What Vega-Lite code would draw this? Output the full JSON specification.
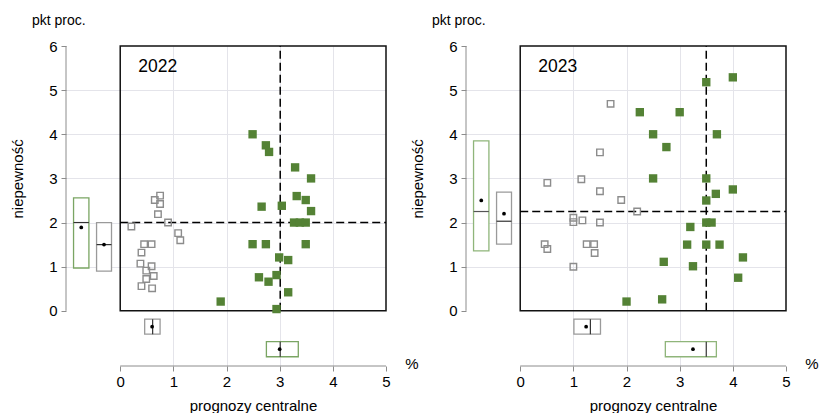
{
  "$schema": "https://vega.github.io/schema/vega-lite/v6.json",
  "background": "white",
  "padding": {"left": 10, "top": 14, "right": 0, "bottom": 0},
  "bounds": "flush",
  "spacing": 80,
  "datasets": {
    "panels": [
      {"year": "2022", "unit": "%"},
      {"year": "2023", "unit": "%"}
    ],
    "pts": [
      {"year": "2022", "grp": "A", "fc": 0.75, "unc": 2.61},
      {"year": "2022", "grp": "A", "fc": 0.65, "unc": 2.51},
      {"year": "2022", "grp": "A", "fc": 0.75, "unc": 2.42},
      {"year": "2022", "grp": "A", "fc": 0.71, "unc": 2.19},
      {"year": "2022", "grp": "A", "fc": 0.21, "unc": 1.91},
      {"year": "2022", "grp": "A", "fc": 0.90, "unc": 2.0},
      {"year": "2022", "grp": "A", "fc": 1.09, "unc": 1.76},
      {"year": "2022", "grp": "A", "fc": 1.13, "unc": 1.60},
      {"year": "2022", "grp": "A", "fc": 0.45, "unc": 1.51},
      {"year": "2022", "grp": "A", "fc": 0.59, "unc": 1.51},
      {"year": "2022", "grp": "A", "fc": 0.40, "unc": 1.32},
      {"year": "2022", "grp": "A", "fc": 0.38, "unc": 1.07},
      {"year": "2022", "grp": "A", "fc": 0.59, "unc": 1.01},
      {"year": "2022", "grp": "A", "fc": 0.49, "unc": 0.91},
      {"year": "2022", "grp": "A", "fc": 0.63, "unc": 0.79},
      {"year": "2022", "grp": "A", "fc": 0.49, "unc": 0.72},
      {"year": "2022", "grp": "A", "fc": 0.40, "unc": 0.56},
      {"year": "2022", "grp": "A", "fc": 0.60, "unc": 0.51},
      {"year": "2022", "grp": "B", "fc": 2.49, "unc": 4.0},
      {"year": "2022", "grp": "B", "fc": 2.74, "unc": 3.75},
      {"year": "2022", "grp": "B", "fc": 2.80, "unc": 3.60},
      {"year": "2022", "grp": "B", "fc": 3.29, "unc": 3.25},
      {"year": "2022", "grp": "B", "fc": 3.59, "unc": 3.0},
      {"year": "2022", "grp": "B", "fc": 3.32, "unc": 2.60},
      {"year": "2022", "grp": "B", "fc": 3.49, "unc": 2.51},
      {"year": "2022", "grp": "B", "fc": 2.66, "unc": 2.36},
      {"year": "2022", "grp": "B", "fc": 3.04, "unc": 2.38},
      {"year": "2022", "grp": "B", "fc": 3.59, "unc": 2.26},
      {"year": "2022", "grp": "B", "fc": 3.27, "unc": 2.0},
      {"year": "2022", "grp": "B", "fc": 3.38, "unc": 2.0},
      {"year": "2022", "grp": "B", "fc": 3.49, "unc": 2.0},
      {"year": "2022", "grp": "B", "fc": 2.49, "unc": 1.51},
      {"year": "2022", "grp": "B", "fc": 2.74, "unc": 1.51},
      {"year": "2022", "grp": "B", "fc": 3.49, "unc": 1.51},
      {"year": "2022", "grp": "B", "fc": 2.99, "unc": 1.21},
      {"year": "2022", "grp": "B", "fc": 3.16, "unc": 1.15},
      {"year": "2022", "grp": "B", "fc": 2.61, "unc": 0.76},
      {"year": "2022", "grp": "B", "fc": 2.79, "unc": 0.66},
      {"year": "2022", "grp": "B", "fc": 2.94, "unc": 0.81},
      {"year": "2022", "grp": "B", "fc": 3.16, "unc": 0.42},
      {"year": "2022", "grp": "B", "fc": 1.89, "unc": 0.21},
      {"year": "2022", "grp": "B", "fc": 2.94, "unc": 0.04},
      {"year": "2023", "grp": "A", "fc": 1.70, "unc": 4.69},
      {"year": "2023", "grp": "A", "fc": 1.50, "unc": 3.59},
      {"year": "2023", "grp": "A", "fc": 0.51, "unc": 2.90},
      {"year": "2023", "grp": "A", "fc": 1.15, "unc": 2.98},
      {"year": "2023", "grp": "A", "fc": 1.50, "unc": 2.71},
      {"year": "2023", "grp": "A", "fc": 1.90, "unc": 2.51},
      {"year": "2023", "grp": "A", "fc": 2.20, "unc": 2.25},
      {"year": "2023", "grp": "A", "fc": 1.00, "unc": 2.11},
      {"year": "2023", "grp": "A", "fc": 1.00, "unc": 2.01},
      {"year": "2023", "grp": "A", "fc": 1.17, "unc": 2.05},
      {"year": "2023", "grp": "A", "fc": 1.50, "unc": 2.0},
      {"year": "2023", "grp": "A", "fc": 0.46, "unc": 1.51},
      {"year": "2023", "grp": "A", "fc": 0.51, "unc": 1.40},
      {"year": "2023", "grp": "A", "fc": 1.25, "unc": 1.51},
      {"year": "2023", "grp": "A", "fc": 1.39, "unc": 1.51},
      {"year": "2023", "grp": "A", "fc": 1.40, "unc": 1.31},
      {"year": "2023", "grp": "A", "fc": 1.00, "unc": 1.0},
      {"year": "2023", "grp": "B", "fc": 4.00, "unc": 5.29},
      {"year": "2023", "grp": "B", "fc": 3.50, "unc": 5.18},
      {"year": "2023", "grp": "B", "fc": 2.25, "unc": 4.50},
      {"year": "2023", "grp": "B", "fc": 3.00, "unc": 4.50},
      {"year": "2023", "grp": "B", "fc": 2.50, "unc": 4.0},
      {"year": "2023", "grp": "B", "fc": 3.70, "unc": 4.0},
      {"year": "2023", "grp": "B", "fc": 2.75, "unc": 3.71},
      {"year": "2023", "grp": "B", "fc": 2.50, "unc": 3.0},
      {"year": "2023", "grp": "B", "fc": 3.50, "unc": 3.0},
      {"year": "2023", "grp": "B", "fc": 4.00, "unc": 2.75},
      {"year": "2023", "grp": "B", "fc": 3.68, "unc": 2.65},
      {"year": "2023", "grp": "B", "fc": 3.50, "unc": 2.50},
      {"year": "2023", "grp": "B", "fc": 3.20, "unc": 1.90},
      {"year": "2023", "grp": "B", "fc": 3.50, "unc": 2.0},
      {"year": "2023", "grp": "B", "fc": 3.60, "unc": 2.0},
      {"year": "2023", "grp": "B", "fc": 3.14, "unc": 1.50},
      {"year": "2023", "grp": "B", "fc": 3.50, "unc": 1.50},
      {"year": "2023", "grp": "B", "fc": 3.75, "unc": 1.50},
      {"year": "2023", "grp": "B", "fc": 4.19, "unc": 1.21},
      {"year": "2023", "grp": "B", "fc": 2.70, "unc": 1.11},
      {"year": "2023", "grp": "B", "fc": 3.25, "unc": 1.01},
      {"year": "2023", "grp": "B", "fc": 4.10, "unc": 0.75},
      {"year": "2023", "grp": "B", "fc": 2.00, "unc": 0.21},
      {"year": "2023", "grp": "B", "fc": 2.67, "unc": 0.26}
    ],
    "stats": [
      {"year": "2022", "grp": "B", "var": "unc", "q1": 0.97, "med": 2.0, "q3": 2.56, "mean": 1.89},
      {"year": "2022", "grp": "A", "var": "unc", "q1": 0.9, "med": 1.5, "q3": 2.0, "mean": 1.5},
      {"year": "2022", "grp": "A", "var": "fc", "q1": 0.46, "med": 0.61, "q3": 0.75, "mean": 0.6},
      {"year": "2022", "grp": "B", "var": "fc", "q1": 2.75, "med": 3.01, "q3": 3.35, "mean": 3.0},
      {"year": "2023", "grp": "B", "var": "unc", "q1": 1.36, "med": 2.25, "q3": 3.85, "mean": 2.5},
      {"year": "2023", "grp": "A", "var": "unc", "q1": 1.51, "med": 2.03, "q3": 2.69, "mean": 2.2},
      {"year": "2023", "grp": "A", "var": "fc", "q1": 1.01, "med": 1.32, "q3": 1.51, "mean": 1.24},
      {"year": "2023", "grp": "B", "var": "fc", "q1": 2.73, "med": 3.5, "q3": 3.69, "mean": 3.25}
    ]
  },
  "hconcat": [
    {
      "width": 320,
      "height": 320,
      "title": {"text": "pkt proc.", "anchor": "start", "frame": "group", "dx": -34, "fontSize": 14, "fontWeight": "normal", "font": "Liberation Sans", "baseline": "alphabetic", "offset": 0},
      "layer": [
        {
          "data": {"name": "panels"},
          "transform": [{"filter": "datum.year == '2022'"}],
          "mark": {"type": "rect", "fill": "white", "fillOpacity": 0, "stroke": "#111111", "strokeWidth": 1.5},
          "encoding": {
            "x": {"datum": 0, "type": "quantitative", "scale": {"domain": [-1.02, 5], "nice": false, "zero": false},
              "axis": {"title": "prognozy centralne", "values": [0, 1, 2, 3, 4, 5], "grid": true,
                "gridOpacity": {"condition": {"test": "datum.value <= 0 || datum.value >= 5", "value": 0}, "value": 1},
                "titleX": 187, "titleY": 39, "titleBaseline": "middle", "titleAlign": "center"}},
            "x2": {"datum": 5},
            "y": {"datum": 0, "type": "quantitative", "scale": {"domain": [-1.25, 6], "nice": false, "zero": false},
              "axis": {"title": "niepewność", "values": [0, 1, 2, 3, 4, 5, 6], "grid": true,
                "gridOpacity": {"condition": {"test": "datum.value <= 0 || datum.value >= 6", "value": 0}, "value": 1},
                "titleX": -49, "titleY": 132.4, "titleAngle": 270, "titleBaseline": "middle", "titleAlign": "center"}},
            "y2": {"datum": 6}
          }
        },
        {
          "data": {"name": "panels"},
          "transform": [{"filter": "datum.year == '2022'"}],
          "mark": {"type": "rule", "color": "#8c8c8c", "strokeWidth": 1},
          "encoding": {"x": {"datum": -1.02, "type": "quantitative"}, "y": {"datum": 0, "type": "quantitative"}, "y2": {"datum": 6}}
        },
        {
          "data": {"name": "panels"},
          "transform": [{"filter": "datum.year == '2022'"}],
          "mark": {"type": "rule", "color": "#8c8c8c", "strokeWidth": 1},
          "encoding": {"y": {"datum": -1.25, "type": "quantitative"}, "x": {"datum": 0, "type": "quantitative"}, "x2": {"datum": 5}}
        },
        {
          "data": {"name": "panels"},
          "transform": [{"filter": "datum.year == '2022'"}],
          "mark": {"type": "text", "align": "left", "baseline": "middle", "fontSize": 17.5, "font": "Liberation Sans", "color": "#000"},
          "encoding": {"x": {"datum": 0.34, "type": "quantitative"}, "y": {"datum": 5.53, "type": "quantitative"}, "text": {"field": "year"}}
        },
        {
          "data": {"name": "panels"},
          "transform": [{"filter": "datum.year == '2022'"}],
          "mark": {"type": "text", "align": "center", "baseline": "middle", "fontSize": 15, "font": "Liberation Sans", "color": "#000", "dx": 26, "dy": -2},
          "encoding": {"x": {"datum": 5, "type": "quantitative"}, "y": {"datum": -1.25, "type": "quantitative"}, "text": {"field": "unit"}}
        },
        {
          "data": {"name": "stats"},
          "transform": [{"filter": "datum.year == '2022' && datum.grp == 'B' && datum.var == 'fc'"}],
          "mark": {"type": "rule", "color": "#000", "strokeWidth": 1.5, "strokeDash": [8, 4]},
          "encoding": {"x": {"field": "med", "type": "quantitative", "title": "prognozy centralne"}, "y": {"datum": 0, "type": "quantitative"}, "y2": {"datum": 6}}
        },
        {
          "data": {"name": "stats"},
          "transform": [{"filter": "datum.year == '2022' && datum.grp == 'B' && datum.var == 'unc'"}],
          "mark": {"type": "rule", "color": "#000", "strokeWidth": 1.5, "strokeDash": [8, 4]},
          "encoding": {"y": {"field": "med", "type": "quantitative", "title": "niepewność"}, "x": {"datum": 0, "type": "quantitative"}, "x2": {"datum": 5}}
        },
        {
          "data": {"name": "pts"},
          "transform": [{"filter": "datum.year == '2022' && datum.grp == 'A'"}],
          "mark": {"type": "point", "shape": "square", "filled": false, "size": 42, "strokeWidth": 1.4, "color": "#8c8c8c", "opacity": 1},
          "encoding": {"x": {"field": "fc", "type": "quantitative", "title": "prognozy centralne"}, "y": {"field": "unc", "type": "quantitative", "title": "niepewność"}}
        },
        {
          "data": {"name": "pts"},
          "transform": [{"filter": "datum.year == '2022' && datum.grp == 'B'"}],
          "mark": {"type": "point", "shape": "square", "filled": true, "size": 70, "color": "#548235", "opacity": 1},
          "encoding": {"x": {"field": "fc", "type": "quantitative", "title": "prognozy centralne"}, "y": {"field": "unc", "type": "quantitative", "title": "niepewność"}}
        },
        {
          "data": {"name": "stats"},
          "transform": [{"filter": "datum.year == '2022' && datum.grp == 'B' && datum.var == 'unc'"}],
          "layer": [
            {"mark": {"type": "rect", "fill": "white", "stroke": "#7aa563", "strokeWidth": 1.3},
             "encoding": {"x": {"datum": -0.878, "type": "quantitative"}, "x2": {"datum": -0.589}, "y": {"field": "q1", "type": "quantitative", "title": "niepewność"}, "y2": {"field": "q3"}}},
            {"mark": {"type": "rule", "color": "#333", "strokeWidth": 1.2},
             "encoding": {"x": {"datum": -0.878, "type": "quantitative"}, "x2": {"datum": -0.589}, "y": {"field": "med", "type": "quantitative", "title": "niepewność"}}},
            {"mark": {"type": "point", "shape": "circle", "filled": true, "size": 14, "color": "#000", "opacity": 1},
             "encoding": {"x": {"datum": -0.733, "type": "quantitative"}, "y": {"field": "mean", "type": "quantitative", "title": "niepewność"}}}
          ]
        },
        {
          "data": {"name": "stats"},
          "transform": [{"filter": "datum.year == '2022' && datum.grp == 'A' && datum.var == 'unc'"}],
          "layer": [
            {"mark": {"type": "rect", "fill": "white", "stroke": "#9a9a9a", "strokeWidth": 1.3},
             "encoding": {"x": {"datum": -0.445, "type": "quantitative"}, "x2": {"datum": -0.164}, "y": {"field": "q1", "type": "quantitative", "title": "niepewność"}, "y2": {"field": "q3"}}},
            {"mark": {"type": "rule", "color": "#333", "strokeWidth": 1.2},
             "encoding": {"x": {"datum": -0.445, "type": "quantitative"}, "x2": {"datum": -0.164}, "y": {"field": "med", "type": "quantitative", "title": "niepewność"}}},
            {"mark": {"type": "point", "shape": "circle", "filled": true, "size": 14, "color": "#000", "opacity": 1},
             "encoding": {"x": {"datum": -0.305, "type": "quantitative"}, "y": {"field": "mean", "type": "quantitative", "title": "niepewność"}}}
          ]
        },
        {
          "data": {"name": "stats"},
          "transform": [{"filter": "datum.year == '2022' && datum.grp == 'A' && datum.var == 'fc'"}],
          "layer": [
            {"mark": {"type": "rect", "fill": "white", "stroke": "#9a9a9a", "strokeWidth": 1.3},
             "encoding": {"y": {"datum": -0.19, "type": "quantitative"}, "y2": {"datum": -0.53}, "x": {"field": "q1", "type": "quantitative", "title": "prognozy centralne"}, "x2": {"field": "q3"}}},
            {"mark": {"type": "rule", "color": "#333", "strokeWidth": 1.2},
             "encoding": {"y": {"datum": -0.19, "type": "quantitative"}, "y2": {"datum": -0.53}, "x": {"field": "med", "type": "quantitative", "title": "prognozy centralne"}}},
            {"mark": {"type": "point", "shape": "circle", "filled": true, "size": 14, "color": "#000", "opacity": 1},
             "encoding": {"y": {"datum": -0.36, "type": "quantitative"}, "x": {"field": "mean", "type": "quantitative", "title": "prognozy centralne"}}}
          ]
        },
        {
          "data": {"name": "stats"},
          "transform": [{"filter": "datum.year == '2022' && datum.grp == 'B' && datum.var == 'fc'"}],
          "layer": [
            {"mark": {"type": "rect", "fill": "white", "stroke": "#7aa563", "strokeWidth": 1.3},
             "encoding": {"y": {"datum": -0.70, "type": "quantitative"}, "y2": {"datum": -1.04}, "x": {"field": "q1", "type": "quantitative", "title": "prognozy centralne"}, "x2": {"field": "q3"}}},
            {"mark": {"type": "rule", "color": "#333", "strokeWidth": 1.2},
             "encoding": {"y": {"datum": -0.70, "type": "quantitative"}, "y2": {"datum": -1.04}, "x": {"field": "med", "type": "quantitative", "title": "prognozy centralne"}}},
            {"mark": {"type": "point", "shape": "circle", "filled": true, "size": 14, "color": "#000", "opacity": 1},
             "encoding": {"y": {"datum": -0.87, "type": "quantitative"}, "x": {"field": "mean", "type": "quantitative", "title": "prognozy centralne"}}}
          ]
        }
      ]
    },
    {
      "width": 320,
      "height": 320,
      "title": {"text": "pkt proc.", "anchor": "start", "frame": "group", "dx": -34, "fontSize": 14, "fontWeight": "normal", "font": "Liberation Sans", "baseline": "alphabetic", "offset": 0},
      "layer": [
        {
          "data": {"name": "panels"},
          "transform": [{"filter": "datum.year == '2023'"}],
          "mark": {"type": "rect", "fill": "white", "fillOpacity": 0, "stroke": "#111111", "strokeWidth": 1.5},
          "encoding": {
            "x": {"datum": 0, "type": "quantitative", "scale": {"domain": [-1.02, 5], "nice": false, "zero": false},
              "axis": {"title": "prognozy centralne", "values": [0, 1, 2, 3, 4, 5], "grid": true,
                "gridOpacity": {"condition": {"test": "datum.value <= 0 || datum.value >= 5", "value": 0}, "value": 1},
                "titleX": 187, "titleY": 39, "titleBaseline": "middle", "titleAlign": "center"}},
            "x2": {"datum": 5},
            "y": {"datum": 0, "type": "quantitative", "scale": {"domain": [-1.25, 6], "nice": false, "zero": false},
              "axis": {"title": "niepewność", "values": [0, 1, 2, 3, 4, 5, 6], "grid": true,
                "gridOpacity": {"condition": {"test": "datum.value <= 0 || datum.value >= 6", "value": 0}, "value": 1},
                "titleX": -49, "titleY": 132.4, "titleAngle": 270, "titleBaseline": "middle", "titleAlign": "center"}},
            "y2": {"datum": 6}
          }
        },
        {
          "data": {"name": "panels"},
          "transform": [{"filter": "datum.year == '2023'"}],
          "mark": {"type": "rule", "color": "#8c8c8c", "strokeWidth": 1},
          "encoding": {"x": {"datum": -1.02, "type": "quantitative"}, "y": {"datum": 0, "type": "quantitative"}, "y2": {"datum": 6}}
        },
        {
          "data": {"name": "panels"},
          "transform": [{"filter": "datum.year == '2023'"}],
          "mark": {"type": "rule", "color": "#8c8c8c", "strokeWidth": 1},
          "encoding": {"y": {"datum": -1.25, "type": "quantitative"}, "x": {"datum": 0, "type": "quantitative"}, "x2": {"datum": 5}}
        },
        {
          "data": {"name": "panels"},
          "transform": [{"filter": "datum.year == '2023'"}],
          "mark": {"type": "text", "align": "left", "baseline": "middle", "fontSize": 17.5, "font": "Liberation Sans", "color": "#000"},
          "encoding": {"x": {"datum": 0.34, "type": "quantitative"}, "y": {"datum": 5.53, "type": "quantitative"}, "text": {"field": "year"}}
        },
        {
          "data": {"name": "panels"},
          "transform": [{"filter": "datum.year == '2023'"}],
          "mark": {"type": "text", "align": "center", "baseline": "middle", "fontSize": 15, "font": "Liberation Sans", "color": "#000", "dx": 26, "dy": -2},
          "encoding": {"x": {"datum": 5, "type": "quantitative"}, "y": {"datum": -1.25, "type": "quantitative"}, "text": {"field": "unit"}}
        },
        {
          "data": {"name": "stats"},
          "transform": [{"filter": "datum.year == '2023' && datum.grp == 'B' && datum.var == 'fc'"}],
          "mark": {"type": "rule", "color": "#000", "strokeWidth": 1.5, "strokeDash": [8, 4]},
          "encoding": {"x": {"field": "med", "type": "quantitative", "title": "prognozy centralne"}, "y": {"datum": 0, "type": "quantitative"}, "y2": {"datum": 6}}
        },
        {
          "data": {"name": "stats"},
          "transform": [{"filter": "datum.year == '2023' && datum.grp == 'B' && datum.var == 'unc'"}],
          "mark": {"type": "rule", "color": "#000", "strokeWidth": 1.5, "strokeDash": [8, 4]},
          "encoding": {"y": {"field": "med", "type": "quantitative", "title": "niepewność"}, "x": {"datum": 0, "type": "quantitative"}, "x2": {"datum": 5}}
        },
        {
          "data": {"name": "pts"},
          "transform": [{"filter": "datum.year == '2023' && datum.grp == 'A'"}],
          "mark": {"type": "point", "shape": "square", "filled": false, "size": 42, "strokeWidth": 1.4, "color": "#8c8c8c", "opacity": 1},
          "encoding": {"x": {"field": "fc", "type": "quantitative", "title": "prognozy centralne"}, "y": {"field": "unc", "type": "quantitative", "title": "niepewność"}}
        },
        {
          "data": {"name": "pts"},
          "transform": [{"filter": "datum.year == '2023' && datum.grp == 'B'"}],
          "mark": {"type": "point", "shape": "square", "filled": true, "size": 70, "color": "#548235", "opacity": 1},
          "encoding": {"x": {"field": "fc", "type": "quantitative", "title": "prognozy centralne"}, "y": {"field": "unc", "type": "quantitative", "title": "niepewność"}}
        },
        {
          "data": {"name": "stats"},
          "transform": [{"filter": "datum.year == '2023' && datum.grp == 'B' && datum.var == 'unc'"}],
          "layer": [
            {"mark": {"type": "rect", "fill": "white", "stroke": "#8fb57a", "strokeWidth": 1.3},
             "encoding": {"x": {"datum": -0.878, "type": "quantitative"}, "x2": {"datum": -0.589}, "y": {"field": "q1", "type": "quantitative", "title": "niepewność"}, "y2": {"field": "q3"}}},
            {"mark": {"type": "rule", "color": "#555", "strokeWidth": 1.2},
             "encoding": {"x": {"datum": -0.878, "type": "quantitative"}, "x2": {"datum": -0.589}, "y": {"field": "med", "type": "quantitative", "title": "niepewność"}}},
            {"mark": {"type": "point", "shape": "circle", "filled": true, "size": 14, "color": "#000", "opacity": 1},
             "encoding": {"x": {"datum": -0.733, "type": "quantitative"}, "y": {"field": "mean", "type": "quantitative", "title": "niepewność"}}}
          ]
        },
        {
          "data": {"name": "stats"},
          "transform": [{"filter": "datum.year == '2023' && datum.grp == 'A' && datum.var == 'unc'"}],
          "layer": [
            {"mark": {"type": "rect", "fill": "white", "stroke": "#9a9a9a", "strokeWidth": 1.3},
             "encoding": {"x": {"datum": -0.445, "type": "quantitative"}, "x2": {"datum": -0.164}, "y": {"field": "q1", "type": "quantitative", "title": "niepewność"}, "y2": {"field": "q3"}}},
            {"mark": {"type": "rule", "color": "#333", "strokeWidth": 1.2},
             "encoding": {"x": {"datum": -0.445, "type": "quantitative"}, "x2": {"datum": -0.164}, "y": {"field": "med", "type": "quantitative", "title": "niepewność"}}},
            {"mark": {"type": "point", "shape": "circle", "filled": true, "size": 14, "color": "#000", "opacity": 1},
             "encoding": {"x": {"datum": -0.305, "type": "quantitative"}, "y": {"field": "mean", "type": "quantitative", "title": "niepewność"}}}
          ]
        },
        {
          "data": {"name": "stats"},
          "transform": [{"filter": "datum.year == '2023' && datum.grp == 'A' && datum.var == 'fc'"}],
          "layer": [
            {"mark": {"type": "rect", "fill": "white", "stroke": "#9a9a9a", "strokeWidth": 1.3},
             "encoding": {"y": {"datum": -0.19, "type": "quantitative"}, "y2": {"datum": -0.53}, "x": {"field": "q1", "type": "quantitative", "title": "prognozy centralne"}, "x2": {"field": "q3"}}},
            {"mark": {"type": "rule", "color": "#333", "strokeWidth": 1.2},
             "encoding": {"y": {"datum": -0.19, "type": "quantitative"}, "y2": {"datum": -0.53}, "x": {"field": "med", "type": "quantitative", "title": "prognozy centralne"}}},
            {"mark": {"type": "point", "shape": "circle", "filled": true, "size": 14, "color": "#000", "opacity": 1},
             "encoding": {"y": {"datum": -0.36, "type": "quantitative"}, "x": {"field": "mean", "type": "quantitative", "title": "prognozy centralne"}}}
          ]
        },
        {
          "data": {"name": "stats"},
          "transform": [{"filter": "datum.year == '2023' && datum.grp == 'B' && datum.var == 'fc'"}],
          "layer": [
            {"mark": {"type": "rect", "fill": "white", "stroke": "#8fb57a", "strokeWidth": 1.3},
             "encoding": {"y": {"datum": -0.70, "type": "quantitative"}, "y2": {"datum": -1.04}, "x": {"field": "q1", "type": "quantitative", "title": "prognozy centralne"}, "x2": {"field": "q3"}}},
            {"mark": {"type": "rule", "color": "#333", "strokeWidth": 1.2},
             "encoding": {"y": {"datum": -0.70, "type": "quantitative"}, "y2": {"datum": -1.04}, "x": {"field": "med", "type": "quantitative", "title": "prognozy centralne"}}},
            {"mark": {"type": "point", "shape": "circle", "filled": true, "size": 14, "color": "#000", "opacity": 1},
             "encoding": {"y": {"datum": -0.87, "type": "quantitative"}, "x": {"field": "mean", "type": "quantitative", "title": "prognozy centralne"}}}
          ]
        }
      ]
    }
  ],
  "config": {
    "view": {"stroke": null},
    "font": "Liberation Sans",
    "title": {"fontWeight": "normal", "color": "#000"},
    "axis": {"domain": false, "labelFont": "Liberation Sans", "labelFontSize": 15, "labelColor": "#000", "labelFlush": false,
      "tickColor": "#8c8c8c", "tickSize": 5, "tickWidth": 1, "gridColor": "#e4e4ea", "gridWidth": 1,
      "titleFont": "Liberation Sans", "titleFontSize": 15, "titleFontWeight": "normal", "titleColor": "#000"},
    "axisY": {"labelPadding": 4},
    "axisX": {"labelPadding": 3}
  }
}
